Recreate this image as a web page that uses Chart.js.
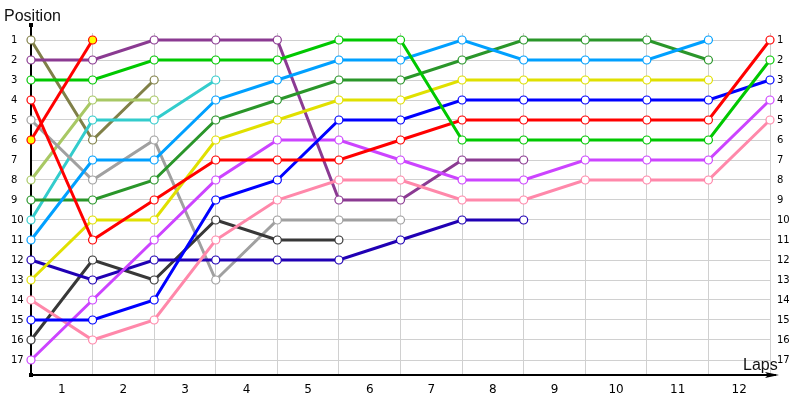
<!DOCTYPE html>
<html>
<head>
<meta charset="utf-8">
<script src="https://cdn.jsdelivr.net/npm/chart.js@4"></script>
<style>
  body { margin: 0; background: #fff; }
  #wrap { width: 800px; height: 400px; }
</style>
</head>
<body>
<div id="wrap"><canvas id="lapchart"></canvas></div>
<script>
// grid positions 0 (start) .. 12 (end of lap 12)
const laps = [0, 1, 2, 3, 4, 5, 6, 7, 8, 9, 10, 11, 12];
const lapLabels = ["1", "2", "3", "4", "5", "6", "7", "8", "9", "10", "11", "12"];
const positions = [1, 2, 3, 4, 5, 6, 7, 8, 9, 10, 11, 12, 13, 14, 15, 16, 17];

// position of each driver at every crossing of the line
const olive = [1, 6, 3];
const purple = [2, 2, 1, 1, 1, 9, 9, 7, 7];
const green = [3, 3, 2, 2, 2, 1, 1, 6, 6, 6, 6, 6, 2];
const red = [4, 11, 9, 7, 7, 7, 6, 5, 5, 5, 5, 5, 1];
const redYellow = [6, 1];
const grey = [5, 8, 6, 13, 10, 10, 10];
const lightGreen = [8, 4, 4];
const cyan = [10, 5, 5, 3];
const skyBlue = [11, 7, 7, 4, 3, 2, 2, 1, 2, 2, 2, 1];
const darkGreen = [9, 9, 8, 5, 4, 3, 3, 2, 1, 1, 1, 2];
const yellow = [13, 10, 10, 6, 5, 4, 4, 3, 3, 3, 3, 3];
const navy = [12, 13, 12, 12, 12, 12, 11, 10, 10];
const darkGrey = [16, 12, 13, 10, 11, 11];
const blue = [15, 15, 14, 9, 8, 5, 5, 4, 4, 4, 4, 4, 3];
const pink = [14, 16, 15, 11, 9, 8, 8, 9, 9, 8, 8, 8, 5];
const violet = [17, 14, 11, 8, 6, 6, 7, 8, 8, 7, 7, 7, 4];

function pts(arr) {
  return arr.map((p, i) => ({ x: laps[i], y: p }));
}

function line(data, color, fill) {
  return {
    data: pts(data),
    borderColor: color,
    backgroundColor: fill || "#fff",
    borderWidth: 3,
    pointRadius: 4,
    pointBorderWidth: 1.2,
    pointBorderColor: color,
    pointBackgroundColor: fill || "#fff",
    tension: 0,
    clip: false,
  };
}

const datasets = [
  line(redYellow, "#ff0000", "#ffff00"),
  line(green, "#00c800"),
  line(red, "#ff0000"),
  line(blue, "#0000ff"),
  line(violet, "#cc44ff"),
  line(pink, "#ff88aa"),
  line(skyBlue, "#00a0ff"),
  line(darkGreen, "#2a962a"),
  line(yellow, "#e0e000"),
  line(purple, "#8b3a92"),
  line(navy, "#2000b4"),
  line(darkGrey, "#383838"),
  line(grey, "#a0a0a0"),
  line(cyan, "#33cccc"),
  line(lightGreen, "#a8c864"),
  line(olive, "#808048"),
];

// axes with arrows + the two axis captions
const axisDecor = {
  id: "axisDecor",
  beforeDatasetsDraw(chart) {
    const { ctx, chartArea: a } = chart;
    ctx.save();
    ctx.strokeStyle = "#000";
    ctx.fillStyle = "#000";
    ctx.lineWidth = 2;
    ctx.beginPath();
    ctx.moveTo(a.left, 25);
    ctx.lineTo(a.left, a.bottom);
    ctx.lineTo(a.right + 6, a.bottom);
    ctx.stroke();
    ctx.beginPath();
    ctx.moveTo(a.right + 9, a.bottom);
    ctx.lineTo(a.right - 5, a.bottom - 3);
    ctx.lineTo(a.right - 2, a.bottom);
    ctx.lineTo(a.right - 5, a.bottom + 3);
    ctx.closePath();
    ctx.fill();
    ctx.fillRect(a.left - 2, 23, 4, 4);
    ctx.fillRect(a.left - 2, a.bottom - 2, 4, 4);
    ctx.font = '16px "Liberation Sans"';
    ctx.fillStyle = "#111";
    ctx.textBaseline = "alphabetic";
    ctx.fillText("Position", 4, 21);
    ctx.fillText("Laps", 743, 370);
    ctx.restore();
  },
};

const yTicks = (s) => { s.ticks = positions.map((v) => ({ value: v })); };

new Chart(document.getElementById("lapchart"), {
  type: "line",
  data: { datasets: datasets },
  options: {
    responsive: true,
    maintainAspectRatio: false,
    animation: false,
    layout: { padding: { top: 33, left: 11, right: 0, bottom: 0 } },
    plugins: { legend: { display: false }, tooltip: { enabled: false } },
    scales: {
      x: {
        type: "linear",
        min: 0,
        max: 12,
        afterBuildTicks: (s) => { s.ticks = lapLabels.map((l, i) => ({ value: i + 0.5 })); },
        afterFit: (s) => { s.height = 25; },
        ticks: {
          callback: (v, i) => lapLabels[i],
          font: { family: "DejaVu Sans", size: 12 },
          color: "#000",
          padding: 8,
          maxRotation: 0,
          autoSkip: false,
        },
        grid: { offset: true, color: "#d0d0d0", drawTicks: false },
        border: { display: false },
      },
      y: {
        type: "linear",
        position: "left",
        reverse: true,
        min: 0.65,
        max: 17.75,
        afterBuildTicks: yTicks,
        afterFit: (s) => { s.width = 20; },
        ticks: {
          font: { family: "DejaVu Sans", size: 10 },
          color: "#000",
          crossAlign: "far",
          padding: 0,
        },
        grid: { color: "#d0d0d0", drawTicks: false },
        border: { display: false },
      },
      y2: {
        type: "linear",
        position: "right",
        reverse: true,
        min: 0.65,
        max: 17.75,
        afterBuildTicks: yTicks,
        afterFit: (s) => { s.width = 30; },
        ticks: {
          font: { family: "DejaVu Sans", size: 10 },
          color: "#000",
          padding: 7,
        },
        grid: { display: false, drawTicks: false },
        border: { display: false },
      },
    },
  },
  plugins: [axisDecor],
});
</script>
</body>
</html>
